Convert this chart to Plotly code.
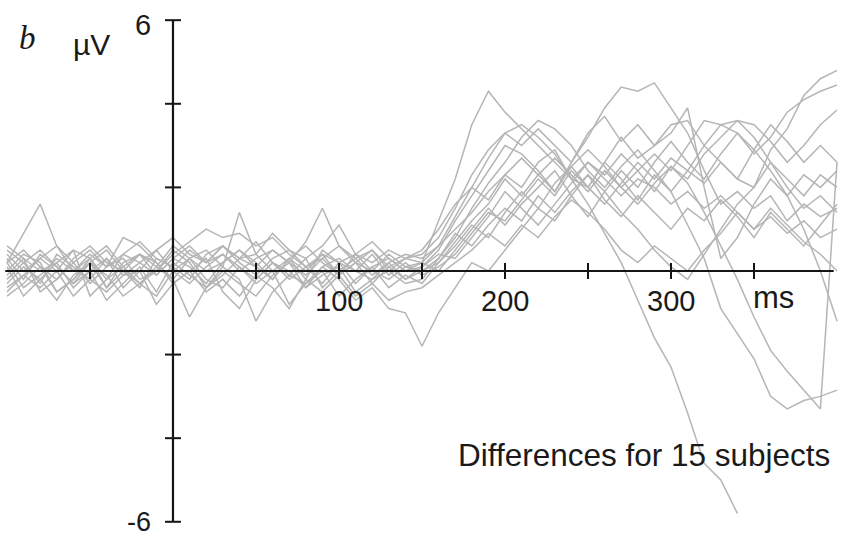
import plotly.graph_objects as go

# ---------------- data ----------------
times_ms = [-100, -90, -80, -70, -60, -50, -40, -30, -20, -10,
            0, 10, 20, 30, 40, 50, 60, 70, 80, 90,
            100, 110, 120, 130, 140, 150, 160, 170, 180, 190,
            200, 210, 220, 230, 240, 250, 260, 270, 280, 290,
            300, 310, 320, 330, 340, 350, 360, 370, 380, 390, 400]

s01 = [0.3, -0.2, 0.4, 0.1, -0.3, 0.2, 0.5, 0.0, -0.4, 0.3, 0.1, -0.2, 0.4, 0.6, 0.2, -0.1, 0.3, 0.5, 0.1, -0.3, 0.2, 0.4, 0.0, -0.2, 0.1,
       0.2, 1.2, 2.2, 3.5, 4.3, 3.8, 3.4, 3.0, 2.6, 2.2, 2.6, 2.2, 1.8, 2.2, 2.0, 1.6, 1.9, 1.5, 1.8, 1.4, 1.0, 1.3, 0.9, 1.2, 0.8, 1.0]
s02 = [0.2, 0.9, 1.6, 0.6, 0.0, 0.3, -0.4, 0.2, 0.4, -0.1, 0.3, 0.1, -0.3, 0.2, 0.5, 0.1, -0.2, 0.3, 0.0, 0.4, 0.2, -0.3, 0.1, 0.3, 0.0,
       0.1, 0.5, 1.2, 1.8, 2.4, 3.0, 2.8, 2.4, 1.9, 2.6, 3.2, 3.9, 4.4, 4.3, 4.5, 3.9, 3.3, 2.4, 1.6, 1.9, 1.5, 1.8, 1.2, 1.6, 1.3, 1.5]
s03 = [0.0, 0.4, 0.2, -0.5, -0.2, 0.3, 0.6, 0.1, -0.3, 0.0, 0.5, 0.2, -0.4, -0.1, 0.3, 0.7, 0.2, -0.2, 0.1, 0.4, -0.1, 0.2, 0.5, 0.0, -0.3,
       -0.2, 0.3, 0.8, 1.5, 2.1, 2.6, 3.2, 3.6, 3.4, 3.0, 2.4, 2.0, 2.5, 2.9, 2.4, 1.9, 2.4, 2.1, 2.6, 2.2, 2.0, 2.9, 3.4, 4.2, 4.6, 4.8]
s04 = [-0.4, -0.1, 0.3, 0.0, 0.5, -0.6, -0.2, 0.1, 0.4, 0.2, -0.3, 0.0, 0.3, -0.5, -0.9, -0.2, 0.2, 0.0, -0.4, 0.1, 0.3, 0.0, -0.2, 0.2, 0.4,
       0.3, 0.6, 1.3, 2.0, 2.7, 3.3, 3.5, 3.2, 2.8, 2.2, 2.0, 2.6, 3.2, 2.7, 3.0, 3.5, 3.6, 3.0, 3.5, 3.3, 2.8, 3.2, 3.8, 4.1, 4.3, 4.45]
s05 = [0.5, 0.2, -0.3, 0.4, 0.1, -0.2, 0.3, -0.4, 0.0, 0.5, 0.8, 0.4, 0.2, 0.6, 0.3, 0.1, 0.5, 0.2, -0.1, 0.3, 0.6, 0.2, 0.0, 0.4, 0.1,
       0.0, 0.2, 0.7, 1.2, 1.6, 2.2, 1.8, 2.3, 2.7, 2.3, 1.9, 2.4, 2.0, 1.6, 2.1, 2.5, 2.2, 2.8, 3.2, 3.6, 3.5, 3.1, 2.6, 3.0, 3.5, 3.85]
s06 = [-0.6, -0.3, 0.1, -0.5, -0.2, 0.2, -0.1, -0.6, -0.3, 0.1, -0.2, -1.1, -0.4, 0.0, -0.3, -0.6, -0.1, 0.2, -0.4, -0.1, 0.1, -0.5, -0.2, 0.0, 0.3,
       0.2, 0.6, 1.0, 1.4, 1.9, 2.3, 2.0, 2.6, 2.9, 2.2, 1.6, 0.9, 0.2, -0.7, -1.6, -2.3, -3.4, -4.6, -5.0, -5.8, None, None, None, None, None, None]
s07 = [0.2, -0.4, -0.1, 0.3, 0.0, 0.4, 0.1, 0.8, 0.6, 0.2, -0.2, 0.3, 0.5, 0.1, 1.4, 0.4, 0.0, 0.3, -0.2, 0.5, 0.2, 0.0, 0.4, -0.1, 0.2,
       -0.1, 0.1, 0.4, 0.9, 1.4, 1.2, 1.7, 2.2, 1.8, 2.4, 2.0, 2.6, 2.2, 1.7, 2.3, 1.9, 1.1, 0.3, -0.9, -1.5, -2.1, -3.0, -3.3, -3.1, -3.0, -2.85]
s08 = [-0.1, 0.3, -0.5, -0.2, 0.2, -0.3, 0.1, 0.3, -0.2, 0.0, 0.4, 0.7, 1.0, 0.8, 0.9, 0.6, 0.8, 0.4, 0.1, 0.3, -0.1, 0.2, -0.3, 0.1, -0.2,
       0.1, 0.4, 0.3, 0.8, 1.3, 1.9, 1.5, 1.1, 1.6, 2.1, 2.6, 2.3, 2.8, 2.4, 1.9, 2.5, 2.1, 1.4, 0.6, -0.2, -1.1, -1.9, -2.4, -2.85, -3.3, 2.6]
s09 = [0.1, -0.6, -0.2, 0.2, -0.4, 0.0, -0.7, -0.3, 0.1, -0.5, 0.2, -0.1, -0.4, 0.1, -0.2, -1.2, -0.5, -0.1, -0.3, 0.0, -0.6, -0.2, 0.1, -0.4, -0.1,
       -0.3, 0.2, 0.6, 1.1, 0.8, 1.4, 1.9, 1.5, 2.1, 2.5, 2.0, 1.6, 2.1, 2.6, 2.2, 2.7, 2.4, 3.0, 2.6, 2.2, 2.9, 2.4, 1.8, 1.0, 0.0, -1.2]
s10 = [0.4, 0.0, 0.3, 0.6, 0.2, 0.5, 0.1, 0.4, 0.2, -0.1, 0.3, 0.6, 0.2, 0.4, 0.0, 0.3, 0.5, 0.2, 0.7, 1.5, 0.6, 0.3, 0.5, 0.1, 0.3,
       0.4, 0.8, 1.5, 2.3, 2.9, 3.3, 3.0, 3.4, 3.0, 2.6, 3.3, 3.7, 3.1, 3.5, 3.0, 3.3, 3.9, 2.0, 0.3, 0.8, 1.6, 2.2, 1.8, 2.3, 2.0, 2.4]
s11 = [-0.3, 0.1, -0.2, -0.7, -0.1, 0.2, -0.4, 0.0, -0.3, -0.6, 0.0, 0.3, -0.2, -0.4, 0.1, -0.3, 0.0, -0.8, -0.3, 0.1, -0.2, -0.7, -0.4, -0.9, -1.0,
       -1.8, -1.0, -0.4, 0.2, 0.0, 0.5, 1.0, 1.5, 1.2, 1.8, 2.3, 1.9, 1.4, 1.0, 0.5, 0.1, -0.2, 0.4, 1.0, 1.6, 2.0, 2.6, 2.2, 1.8, 2.3, 2.0]
s12 = [0.6, 0.3, 0.0, 0.2, 0.5, 0.3, -0.2, 0.4, 0.7, 0.3, 0.1, 0.5, 0.2, 0.6, 0.3, 0.4, 0.9, 0.5, 0.3, 0.6, 1.1, 0.4, 0.2, 0.5, 0.3,
       0.5, 1.0, 1.6, 2.0, 1.7, 2.3, 2.7, 2.3, 1.9, 2.5, 2.9, 2.5, 2.0, 2.4, 2.8, 2.4, 3.0, 3.6, 3.5, 3.6, 3.2, 2.6, 2.0, 1.5, 1.8, 1.4]
s13 = [-0.2, 0.2, 0.5, 0.1, -0.3, 0.0, 0.3, -0.1, 0.2, 0.5, 0.0, -0.3, 0.1, 0.4, 0.1, -0.2, 0.2, -0.1, 0.3, -0.4, 0.0, 0.3, -0.1, 0.2, -0.2,
       0.0, 0.3, 0.9, 0.6, 1.1, 1.5, 1.2, 1.8, 1.4, 1.9, 2.3, 1.7, 1.3, 1.8, 1.4, 1.0, 1.5, 1.2, 1.7, 1.3, 0.8, 1.4, 1.0, 0.6, 1.1, 1.6]
s14 = [0.2, 0.5, 0.1, -0.2, 0.3, 0.6, 0.2, 0.0, 0.4, 0.1, 0.6, 0.3, 0.0, 0.2, 0.5, 0.2, -0.2, 0.3, 0.6, 0.2, -0.1, 0.4, 0.7, 0.3, 0.0,
       0.2, 0.0, 0.5, 1.0, 1.5, 1.1, 1.6, 2.0, 2.4, 1.8, 1.3, 1.9, 2.4, 2.0, 2.6, 3.1, 2.6, 2.2, 2.8, 3.3, 2.9, 3.5, 3.1, 2.6, 3.0, 2.6]
s15 = [-0.5, -0.1, -0.4, 0.0, -0.6, -0.2, -0.5, -0.1, 0.0, -0.8, -0.3, 0.0, -0.5, -0.2, -0.6, -0.1, -0.4, -0.9, -0.2, -0.5, -0.1, -0.6, -0.3, -0.7, -0.5,
       -0.4, -0.1, 0.2, 0.5, 0.9, 0.6, 1.1, 0.8, 1.3, 1.7, 1.4, 1.0, 0.5, 0.2, 0.6, 0.3, 0.0, 0.5, 0.9, 1.4, 1.0, 1.5, 1.1, 0.7, 0.4, 0.0]

subjects = [s01, s02, s03, s04, s05, s06, s07, s08, s09, s10, s11, s12, s13, s14, s15]

x_ticks = [-50, 0, 50, 100, 150, 200, 250, 300, 350]
x_tick_labels = {100: "100", 200: "200", 300: "300"}
x_unit_label = "ms"
y_ticks = [-6, -4, -2, 2, 4, 6]
y_tick_labels = {6: "6", -6: "-6"}
y_unit_label = "µV"
panel_label = "b"
caption = "Differences for 15 subjects"

# ---------------- figure ----------------
W, H = 841, 538
X_RANGE = [-104.2, 402.4]
Y_RANGE = [-6.388, 6.483]
px_per_ms = W / (X_RANGE[1] - X_RANGE[0])
px_per_uv = H / (Y_RANGE[1] - Y_RANGE[0])

fig = go.Figure()
for i, vals in enumerate(subjects):
    assert len(vals) == len(times_ms)
    fig.add_trace(go.Scatter(
        x=times_ms, y=vals, mode="lines", name=f"S{i+1}",
        line=dict(color="#b5b5b5", width=1.5),
        connectgaps=False, hoverinfo="skip", showlegend=False))

ax_col = "#151515"
shapes = []
shapes.append(dict(type="line", xref="x", yref="y", x0=-101, x1=398, y0=0, y1=0,
                   line=dict(color=ax_col, width=2.2)))
shapes.append(dict(type="line", xref="x", yref="y", x0=0, x1=0, y0=-6, y1=6,
                   line=dict(color=ax_col, width=2.2)))
tick_half_x = 8 / px_per_uv
for t in x_ticks:
    shapes.append(dict(type="line", xref="x", yref="y", x0=t, x1=t,
                       y0=-tick_half_x, y1=tick_half_x, line=dict(color=ax_col, width=2)))
tick_half_y = 8 / px_per_ms
for v in y_ticks:
    shapes.append(dict(type="line", xref="x", yref="y", x0=-tick_half_y, x1=tick_half_y,
                       y0=v, y1=v, line=dict(color=ax_col, width=2)))

font = dict(family="Liberation Sans, Arial, sans-serif", size=29, color="#1a1a1a")
ann = []
for t, lab in x_tick_labels.items():
    ann.append(dict(x=t, y=-30 / px_per_uv, xref="x", yref="y", text=lab, showarrow=False,
                    xanchor="center", yanchor="middle", font=font))
ann.append(dict(x=x_ticks[-1] - 3 / px_per_ms, y=-27 / px_per_uv, xref="x", yref="y", text=x_unit_label,
                showarrow=False, xanchor="left", yanchor="middle", font=dict(font, size=31)))
ann.append(dict(x=-20 / px_per_ms, y=6 - 5 / px_per_uv, xref="x", yref="y", text=y_tick_labels[6],
                showarrow=False, xanchor="right", yanchor="middle", font=font))
ann.append(dict(x=-20 / px_per_ms, y=-6, xref="x", yref="y", text=y_tick_labels[-6],
                showarrow=False, xanchor="right", yanchor="middle", font=dict(font, size=27)))
ann.append(dict(x=-81 / px_per_ms, y=6 - 24 / px_per_uv, xref="x", yref="y", text=y_unit_label,
                showarrow=False, xanchor="center", yanchor="middle", font=dict(font, size=30)))
ann.append(dict(x=-145 / px_per_ms, y=6 - 18 / px_per_uv, xref="x", yref="y", text=f"<i>{panel_label}</i>",
                showarrow=False, xanchor="center", yanchor="middle",
                font=dict(family="Liberation Serif, Times New Roman, serif", size=33, color="#1a1a1a")))
ann.append(dict(x=397, y=-184 / px_per_uv, xref="x", yref="y", text=caption,
                showarrow=False, xanchor="right", yanchor="middle", font=dict(font, size=31.5)))

fig.update_layout(
    width=W, height=H,
    margin=dict(l=0, r=0, t=0, b=0),
    paper_bgcolor="white", plot_bgcolor="white",
    xaxis=dict(range=X_RANGE, visible=False, fixedrange=True),
    yaxis=dict(range=Y_RANGE, visible=False, fixedrange=True),
    shapes=shapes, annotations=ann,
)

fig.write_html("out.html", config={"displayModeBar": False},
               post_script="document.body.style.margin='0';document.body.style.overflow='hidden';")
